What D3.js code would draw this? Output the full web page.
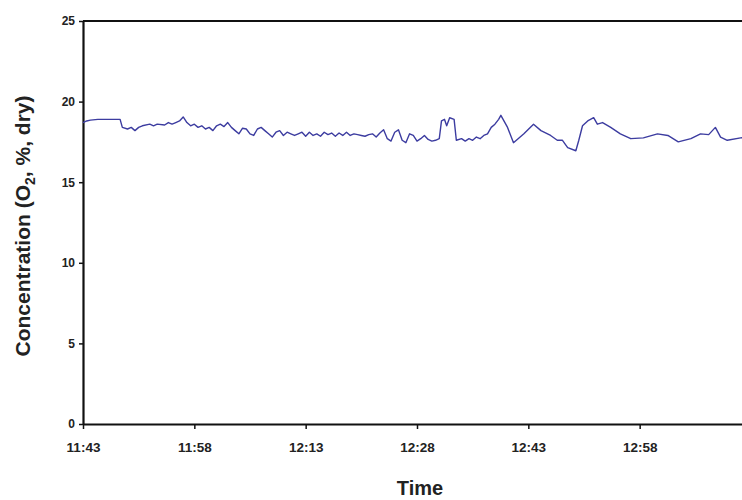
<!DOCTYPE html>
<html>
<head>
<meta charset="utf-8">
<script src="https://cdn.jsdelivr.net/npm/d3@7"></script>
<style>
  html, body { margin: 0; padding: 0; background: #fff; }
  svg { display: block; }
</style>
</head>
<body>
<svg id="chart" width="742" height="500"></svg>
<script>
// ---- data ----
const startTime = "11:43";
const endTime = "13:13";
const xTickLabels = ["11:43", "11:58", "12:13", "12:28", "12:43", "12:58"];
const yTickValues = [0, 5, 10, 15, 20, 25];

// minutes after 11:43
const minutesAfterStart = [
  0, 0.5, 1, 2, 3, 4, 5, 5.3, 6, 6.5, 7, 7.5, 8, 9, 9.5, 10, 11, 11.5, 12, 12.5,
  13, 13.5, 14, 14.5, 15, 15.5, 16, 16.5, 17, 17.5, 18, 18.5, 19, 19.5, 20, 20.5,
  21, 21.5, 22, 22.5, 23, 23.5, 24, 24.5, 25, 25.5, 26, 26.5, 27, 27.5, 28, 28.5,
  29, 29.5, 30, 30.5, 31, 31.5, 32, 32.5, 33, 33.5, 34, 34.5, 35, 35.5, 36, 36.5,
  37, 37.5, 38, 38.5, 39, 39.5, 40, 40.5, 41, 41.5, 42, 42.5, 43, 43.5, 44, 44.5,
  45, 45.5, 46, 46.5, 47, 47.5, 48, 48.3, 48.7, 49, 49.4, 50, 50.3, 51, 51.5, 52,
  52.5, 53, 53.5, 54, 54.5, 55, 55.5, 56, 56.3, 57.2, 58, 59.4, 60.7, 61.7, 63,
  63.9, 64.6, 65.3, 66.4, 66.8, 67.3, 68, 68.8, 69.3, 70, 71.1, 72.4, 73.8, 75.5,
  77.4, 78.8, 80.2, 81.9, 83.2, 84.3, 85.2, 85.9, 86.8, 88.6, 89.5
];
const o2Dry = [
  18.7, 18.8, 18.85, 18.9, 18.9, 18.9, 18.9, 18.4, 18.3, 18.4, 18.2, 18.4, 18.5, 18.6, 18.5, 18.6, 18.55, 18.7, 18.6, 18.7,
  18.8, 19.05, 18.7, 18.5, 18.6, 18.4, 18.5, 18.3, 18.4, 18.2, 18.5, 18.6, 18.45, 18.7, 18.4, 18.2,
  18.0, 18.35, 18.3, 18.0, 17.9, 18.3, 18.4, 18.2, 18.0, 17.8, 18.1, 18.2, 17.9, 18.1, 18.0, 17.9,
  18.0, 18.1, 17.85, 18.1, 17.9, 18.0, 17.85, 18.1, 17.95, 18.05, 17.85, 18.05, 17.9, 18.1, 17.9, 18.0,
  17.95, 17.9, 17.85, 17.95, 18.0, 17.8, 18.05, 18.25, 17.7, 17.55, 18.1, 18.25, 17.6, 17.45, 18.0, 17.9,
  17.55, 17.7, 17.9, 17.65, 17.55, 17.6, 17.7, 18.8, 18.9, 18.5, 19.0, 18.9, 17.6, 17.7, 17.55, 17.7,
  17.6, 17.8, 17.7, 17.9, 18.0, 18.4, 18.6, 18.9, 19.15, 18.4, 17.45, 18.0, 18.6, 18.2, 17.9,
  17.6, 17.6, 17.15, 16.95, 17.6, 18.5, 18.8, 19.0, 18.6, 18.7, 18.4, 18.0, 17.7, 17.75,
  18.0, 17.9, 17.5, 17.7, 18.0, 17.95, 18.4, 17.8, 17.6, 17.75, 17.8
];

const yTitle = "Concentration (O";
const xTitle = "Time";

// ---- drawing ----
const parse = d3.timeParse("%H:%M");
const t0 = parse(startTime);
const t1 = parse(endTime);
const FONT = "'Liberation Sans', Arial, sans-serif";

const svg = d3.select("#chart");

const x = d3.scaleTime().domain([t0, t1]).range([83, 751]);
const y = d3.scaleLinear().domain([0, 25]).range([424, 21]);

const data = minutesAfterStart.map((m, i) => ({
  t: new Date(t0.getTime() + m * 60000),
  v: o2Dry[i]
}));

// top border
svg.append("line")
  .attr("x1", x(t0)).attr("x2", x(t1))
  .attr("y1", y(25)).attr("y2", y(25))
  .attr("stroke", "#111").attr("stroke-width", 2.2);

// x axis
const xAxis = d3.axisBottom(x)
  .tickValues(xTickLabels.map(parse))
  .tickFormat(d3.timeFormat("%H:%M"))
  .tickSize(5)
  .tickSizeOuter(0);
const gx = svg.append("g").attr("transform", `translate(0,${y(0)})`).call(xAxis);
gx.select(".domain").attr("stroke", "#111").attr("stroke-width", 2.2);
gx.selectAll(".tick line").attr("stroke", "#111").attr("stroke-width", 1.5);
gx.selectAll(".tick text")
  .attr("y", 28).attr("dy", 0)
  .attr("fill", "#222")
  .style("font-family", FONT).style("font-size", "13.5px").style("font-weight", "bold");

// y axis
const yAxis = d3.axisLeft(y)
  .tickValues(yTickValues)
  .tickSize(4)
  .tickSizeOuter(0);
const gy = svg.append("g").attr("transform", `translate(${x(t0)},0)`).call(yAxis);
gy.select(".domain").attr("stroke", "#111").attr("stroke-width", 2.2);
gy.selectAll(".tick line").attr("stroke", "#111").attr("stroke-width", 1.5);
gy.selectAll(".tick text")
  .attr("x", -8)
  .attr("fill", "#222")
  .style("font-family", FONT).style("font-size", "12px").style("font-weight", "bold");

// data line
svg.append("path")
  .datum(data)
  .attr("fill", "none")
  .attr("stroke", "#3c3ca0")
  .attr("stroke-width", 1.4)
  .attr("stroke-linejoin", "round")
  .attr("d", d3.line().x(d => x(d.t)).y(d => y(d.v)));

// y title
const yt = svg.append("text")
  .attr("transform", "translate(30,226) rotate(-90)")
  .attr("text-anchor", "middle")
  .attr("fill", "#222")
  .style("font-family", FONT).style("font-size", "21px").style("font-weight", "bold");
yt.append("tspan").text(yTitle);
yt.append("tspan").attr("dy", 5).style("font-size", "14px").text("2");
yt.append("tspan").attr("dy", -5).text(", %, dry)");

// x title
svg.append("text")
  .attr("x", 420).attr("y", 495)
  .attr("text-anchor", "middle")
  .attr("fill", "#222")
  .style("font-family", FONT).style("font-size", "20px").style("font-weight", "bold")
  .text(xTitle);
</script>
</body>
</html>
